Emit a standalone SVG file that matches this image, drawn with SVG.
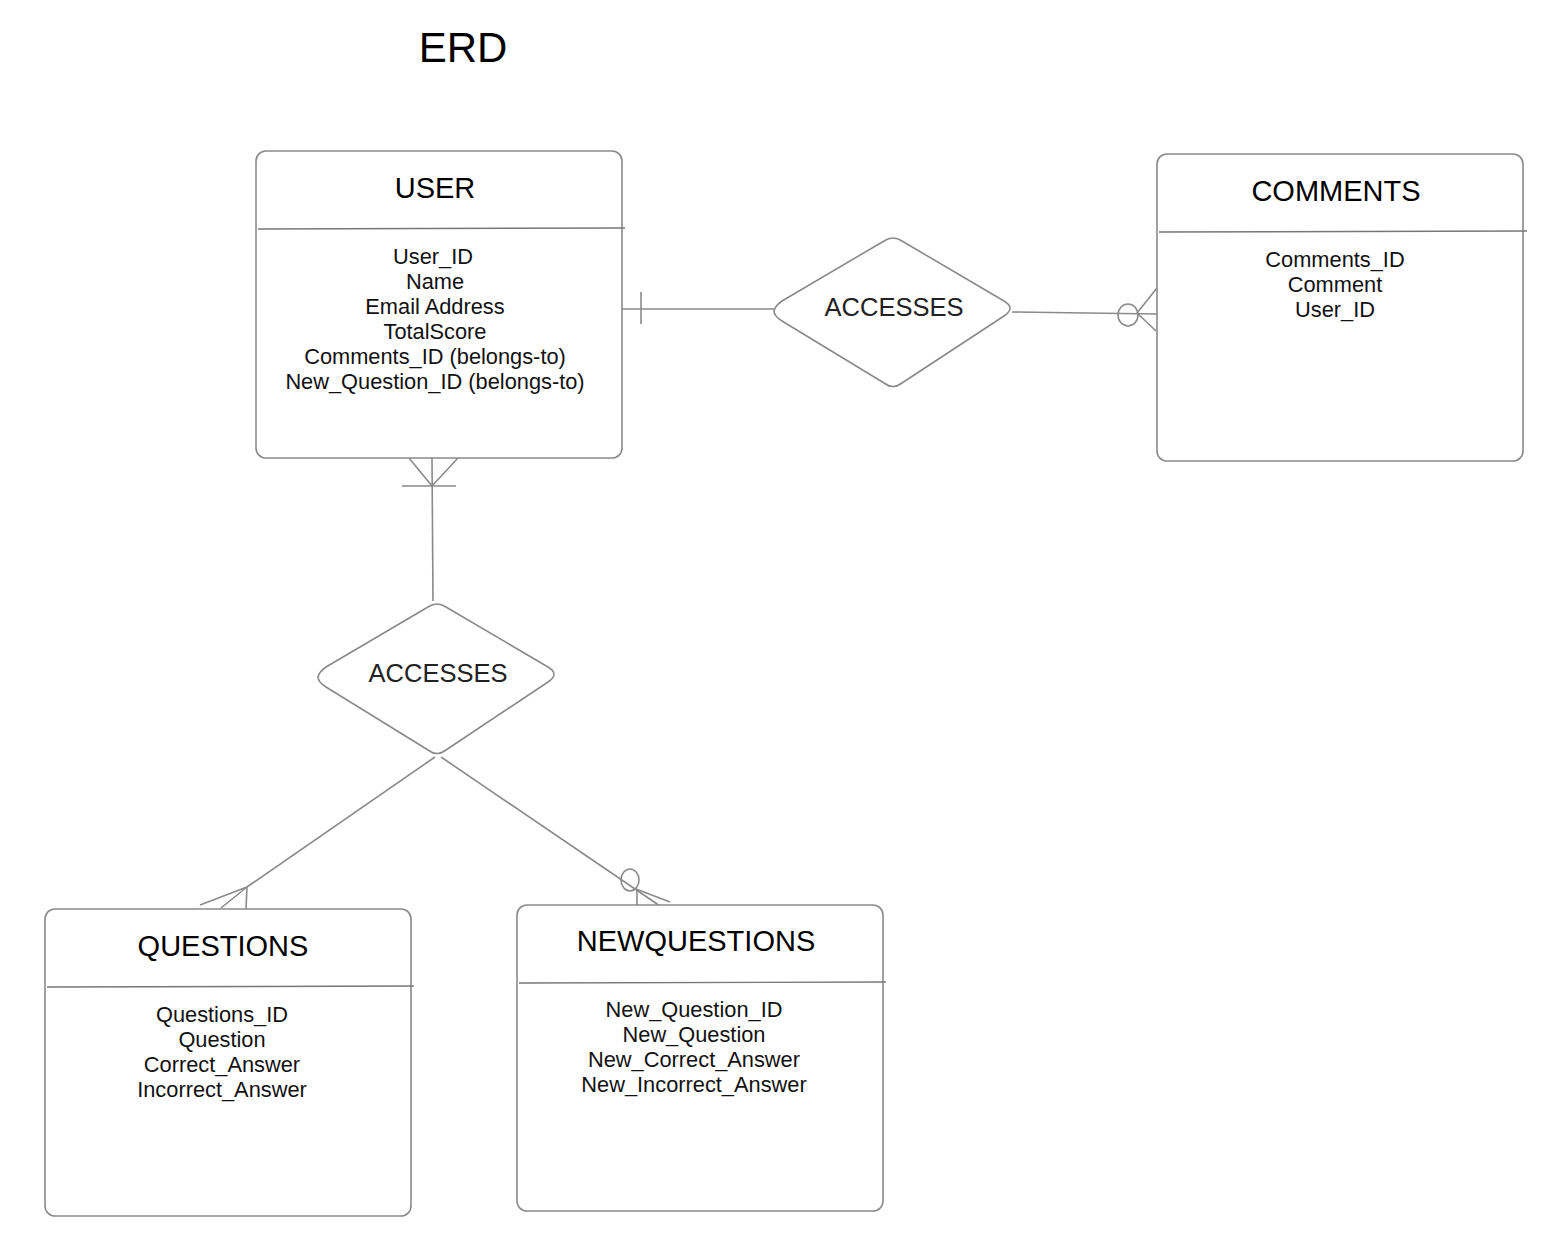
<svg xmlns="http://www.w3.org/2000/svg" width="1561" height="1240" viewBox="0 0 1561 1240">
<style>
.box{fill:#fff;stroke:#8a8a8a;stroke-width:1.6}
.div{stroke:#777;stroke-width:1.4}
.ln{stroke:#8a8a8a;stroke-width:1.6;fill:none}
.t{font-family:"Liberation Sans",Arial,sans-serif;fill:#000;text-anchor:middle}
.h{font-size:29px}
.a{font-size:21.8px;fill:#111}
.d{font-size:25.5px;fill:#222}
</style>
<rect width="1561" height="1240" fill="#fff"/>
<text class="t" x="463" y="62" font-size="42">ERD</text>

<g id="connectors">
  <line class="ln" x1="621" y1="309" x2="775" y2="309"/>
  <line class="ln" x1="641" y1="292" x2="641" y2="324"/>
  <line class="ln" x1="1012" y1="312" x2="1157" y2="314"/>
  <ellipse class="ln" cx="1128" cy="315" rx="10" ry="11"/>
  <line class="ln" x1="1137" y1="313" x2="1157" y2="288"/>
  <line class="ln" x1="1137" y1="313" x2="1156" y2="331"/>
  <line class="ln" x1="432" y1="458" x2="433" y2="601"/>
  <line class="ln" x1="409" y1="458" x2="432" y2="486"/>
  <line class="ln" x1="458" y1="458" x2="432" y2="486"/>
  <line class="ln" x1="402" y1="486" x2="456" y2="486"/>
  <line class="ln" x1="435" y1="757" x2="247" y2="887"/>
  <line class="ln" x1="247" y1="887" x2="200" y2="905"/>
  <line class="ln" x1="247" y1="887" x2="221" y2="908"/>
  <line class="ln" x1="247" y1="887" x2="246" y2="909"/>
  <line class="ln" x1="441" y1="757" x2="660" y2="906"/>
  <ellipse class="ln" cx="630" cy="880" rx="9" ry="11"/>
  <line class="ln" x1="636" y1="889" x2="670" y2="902"/>
  <line class="ln" x1="637" y1="889" x2="637" y2="905"/>
</g>

<g id="user">
  <rect class="box" x="256" y="151" width="366" height="307" rx="10"/>
  <line class="div" x1="258" y1="229" x2="625" y2="228"/>
  <text class="t h" x="435" y="198">USER</text>
  <text class="t a" x="433" y="264">User_ID</text>
  <text class="t a" x="435" y="289">Name</text>
  <text class="t a" x="435" y="314">Email Address</text>
  <text class="t a" x="435" y="339">TotalScore</text>
  <text class="t a" x="435" y="364">Comments_ID (belongs-to)</text>
  <text class="t a" x="435" y="389">New_Question_ID (belongs-to)</text>
</g>

<g id="comments">
  <rect class="box" x="1157" y="154" width="366" height="307" rx="10"/>
  <line class="div" x1="1159" y1="232" x2="1527" y2="231"/>
  <text class="t h" x="1336" y="201">COMMENTS</text>
  <text class="t a" x="1335" y="267">Comments_ID</text>
  <text class="t a" x="1335" y="292">Comment</text>
  <text class="t a" x="1335" y="317">User_ID</text>
</g>

<g id="accesses1">
  <path class="box" d="M774,311 Q775,306 782,301 L884,241 Q893,235 902,241 L1004,301 Q1016,308 1004,316 L902,383 Q893,390 884,383 L782,321 Q774,316 774,311 Z"/>
  <text class="t d" x="894" y="316">ACCESSES</text>
</g>

<g id="accesses2">
  <path class="box" d="M318,677 Q319,672 326,667 L428,607 Q437,601 446,607 L548,667 Q560,674 548,682 L446,750 Q437,757 428,750 L326,687 Q318,682 318,677 Z"/>
  <text class="t d" x="438" y="682">ACCESSES</text>
</g>

<g id="questions">
  <rect class="box" x="45" y="909" width="366" height="307" rx="10"/>
  <line class="div" x1="47" y1="987" x2="414" y2="986"/>
  <text class="t h" x="223" y="956">QUESTIONS</text>
  <text class="t a" x="222" y="1022">Questions_ID</text>
  <text class="t a" x="222" y="1047">Question</text>
  <text class="t a" x="222" y="1072">Correct_Answer</text>
  <text class="t a" x="222" y="1097">Incorrect_Answer</text>
</g>

<g id="newquestions">
  <rect class="box" x="517" y="905" width="366" height="306" rx="10"/>
  <line class="div" x1="519" y1="983" x2="886" y2="982"/>
  <text class="t h" x="696" y="951">NEWQUESTIONS</text>
  <text class="t a" x="694" y="1017">New_Question_ID</text>
  <text class="t a" x="694" y="1042">New_Question</text>
  <text class="t a" x="694" y="1067">New_Correct_Answer</text>
  <text class="t a" x="694" y="1092">New_Incorrect_Answer</text>
</g>
</svg>
